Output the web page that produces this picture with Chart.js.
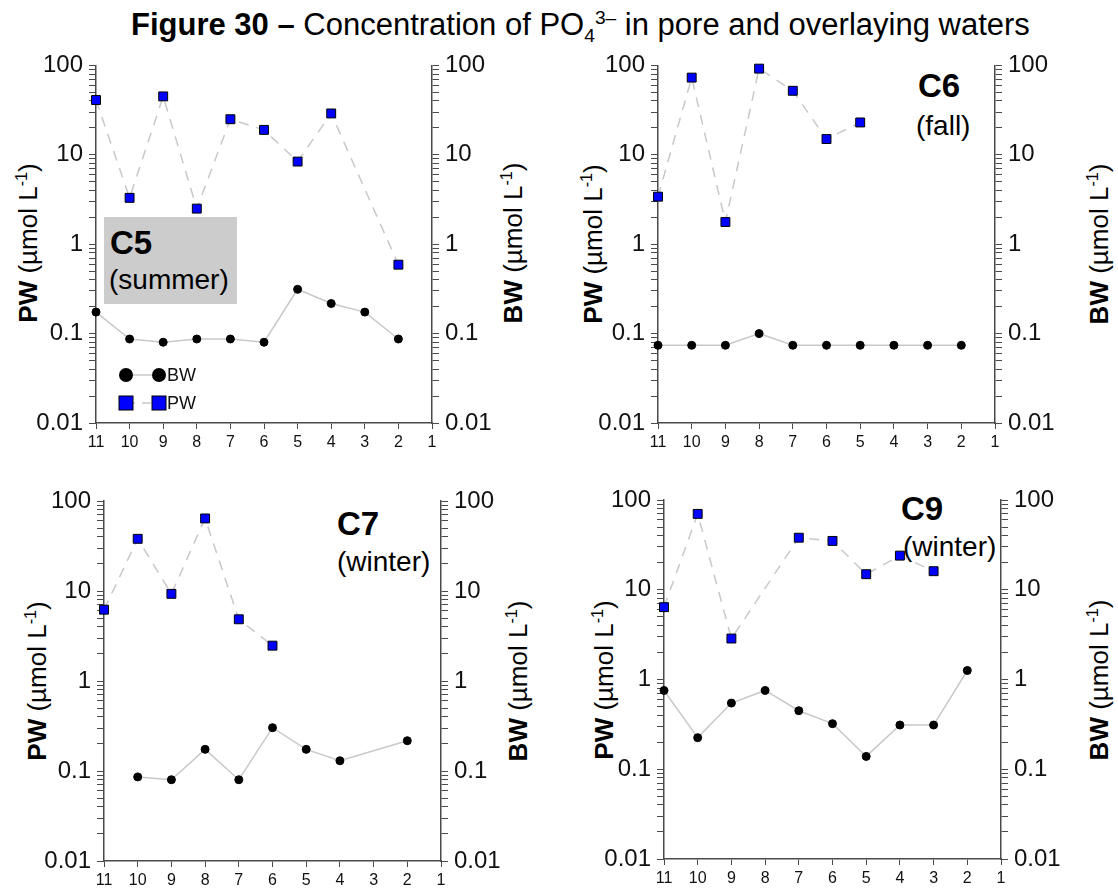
<!DOCTYPE html>
<html>
<head>
<meta charset="utf-8">
<script src="https://cdn.jsdelivr.net/npm/chart.js@4.4.1/dist/chart.umd.min.js"></script>
<style>
body { margin: 0; background: #fff; font-family: Arial, "Liberation Sans", sans-serif; }
#page { position: relative; width: 1118px; height: 888px; overflow: hidden; }
canvas { position: absolute; }
.t { position: absolute; line-height: 1; white-space: nowrap; color: #000; }
.ax { position: absolute; line-height: 1; white-space: nowrap; font-size: 26px; color: #000;
      transform: translate(-50%, -50%) rotate(-90deg); }
sup, sub { line-height: 0; font-size: 0.62em; }
.box { position: absolute; background: #cccccc; }
</style>
</head>
<body>
<div id="page">
  <div class="t" style="left:131px;top:9px;font-size:31px"><b>Figure 30 –</b> Concentration of PO<sub>4</sub><sup>3–</sup> in pore and overlaying waters</div>

  <div class="box" style="left:104px;top:217px;width:133px;height:87px"></div>
  <div class="t" style="left:110px;top:226px;font-size:33px;font-weight:bold">C5</div>
  <div class="t" style="left:109px;top:266px;font-size:28px">(summer)</div>

  <div class="t" style="left:918px;top:69px;font-size:33px;font-weight:bold">C6</div>
  <div class="t" style="left:916px;top:112px;font-size:28px">(fall)</div>

  <div class="t" style="left:337px;top:507px;font-size:33px;font-weight:bold">C7</div>
  <div class="t" style="left:337px;top:548px;font-size:28px">(winter)</div>

  <div class="t" style="left:901px;top:492px;font-size:33px;font-weight:bold">C9</div>
  <div class="t" style="left:903px;top:533px;font-size:28px">(winter)</div>

  <div class="ax" style="left:28px;top:243px"><b>PW</b> (µmol L<sup>-1</sup>)</div>
  <div class="ax" style="left:513px;top:243px"><b>BW</b> (µmol L<sup>-1</sup>)</div>
  <div class="ax" style="left:593px;top:244px"><b>PW</b> (µmol L<sup>-1</sup>)</div>
  <div class="ax" style="left:1099px;top:244px"><b>BW</b> (µmol L<sup>-1</sup>)</div>
  <div class="ax" style="left:37px;top:681px"><b>PW</b> (µmol L<sup>-1</sup>)</div>
  <div class="ax" style="left:518px;top:681px"><b>BW</b> (µmol L<sup>-1</sup>)</div>
  <div class="ax" style="left:604px;top:680px"><b>PW</b> (µmol L<sup>-1</sup>)</div>
  <div class="ax" style="left:1099px;top:680px"><b>BW</b> (µmol L<sup>-1</sup>)</div>
</div>
<script>
// sampling depths (x axis runs 11 -> 1)
const depths = [11, 10, 9, 8, 7, 6, 5, 4, 3, 2];
const xMin = 1;
const xMax = 11;
const yTickLabels = [0.01, 0.1, 1, 10, 100];

// C5 (summer)
const pwC5 = [41, 3.3, 45, 2.5, 25, 19, 8.4, 29, null, 0.59];
const bwC5 = [0.174, 0.087, 0.080, 0.087, 0.087, 0.080, 0.313, 0.217, 0.174, 0.087];
// C6 (fall)
const pwC6 = [3.4, 73, 1.77, 92, 52, 15, 23, null, null, null];
const bwC6 = [0.074, 0.074, 0.074, 0.1, 0.074, 0.074, 0.074, 0.074, 0.074, 0.074];
// C7 (winter)
const pwC7 = [6.2, 38, 9.3, 64, 4.85, 2.47, null, null, null, null];
const bwC7 = [null, 0.086, 0.080, 0.174, 0.080, 0.303, 0.174, 0.130, null, 0.217];
// C9 (winter)
const pwC9 = [6.4, 70, 2.86, null, 38, 35, 14.9, 24, 16.1, null];
const bwC9 = [0.755, 0.225, 0.546, 0.755, 0.449, 0.322, 0.139, 0.311, 0.311, 1.26];

// minor ticks 1..9 in every decade
const yTickValues = [];
yTickLabels.slice(0, -1).forEach((d) => {
  for (let k = 1; k <= 9; k++) yTickValues.push(+(d * k).toPrecision(6));
});
yTickValues.push(yTickLabels[yTickLabels.length - 1]);

const FONT = "Arial, 'Liberation Sans', sans-serif";
const axisColor = "#4a4a4a";
const lineGray = "#c8c8c8";

const toPoints = (vals) => depths.map((d, i) => ({ x: d, y: vals[i] }));

const legendPlugin = {
  id: "pwbwLegend",
  afterDraw(chart) {
    const ctx = chart.ctx;
    const x1 = 126, x2 = 159, tx = 167;
    const yb = 330, yp = 358;
    ctx.save();
    // BW row
    ctx.strokeStyle = lineGray;
    ctx.lineWidth = 1.5;
    ctx.beginPath(); ctx.moveTo(x1, yb); ctx.lineTo(x2, yb); ctx.stroke();
    ctx.fillStyle = "#000";
    [x1, x2].forEach((x) => { ctx.beginPath(); ctx.arc(x, yb, 7, 0, Math.PI * 2); ctx.fill(); });
    // PW row
    ctx.setLineDash([9, 7]);
    ctx.beginPath(); ctx.moveTo(x1, yp); ctx.lineTo(x2, yp); ctx.stroke();
    ctx.setLineDash([]);
    [x1, x2].forEach((x) => {
      ctx.fillStyle = "#0000ff";
      ctx.fillRect(x - 7, yp - 7, 14, 14);
      ctx.strokeStyle = "#000"; ctx.lineWidth = 1;
      ctx.strokeRect(x - 7, yp - 7, 14, 14);
    });
    ctx.fillStyle = "#111";
    ctx.font = "18px " + FONT;
    ctx.textBaseline = "middle";
    ctx.fillText("BW", tx, yb + 1);
    ctx.fillText("PW", tx, yp + 1);
    ctx.restore();
  },
};

function yAxis(position, width) {
  return {
    type: "logarithmic",
    position,
    min: 0.01,
    max: 100,
    afterBuildTicks: (s) => { s.ticks = yTickValues.map((v) => ({ value: v })); },
    afterFit: (s) => { s.width = width; },
    grid: { drawOnChartArea: false, drawTicks: true, tickLength: 7, color: axisColor, tickWidth: 1 },
    border: { display: true, color: axisColor, width: 1.5 },
    ticks: {
      autoSkip: false,
      padding: 6,
      color: "#111",
      font: { family: FONT, size: 24 },
      callback: (v) => (yTickLabels.includes(v) ? String(v) : ""),
    },
  };
}

const panels = [
  { left: 0, top: 45, w: 560, h: 415, area: [96, 63, 432, 423], pw: pwC5, bw: bwC5, legend: true },
  { left: 558, top: 45, w: 560, h: 415, area: [658, 64, 995, 423], pw: pwC6, bw: bwC6 },
  { left: 0, top: 478, w: 560, h: 410, area: [104, 501, 441, 861], pw: pwC7, bw: bwC7 },
  { left: 558, top: 478, w: 560, h: 410, area: [664, 500, 1001, 859], pw: pwC9, bw: bwC9 },
];

const page = document.getElementById("page");
panels.forEach((p) => {
  const cv = document.createElement("canvas");
  cv.width = p.w; cv.height = p.h;
  cv.style.left = p.left + "px"; cv.style.top = p.top + "px";
  cv.style.width = p.w + "px"; cv.style.height = p.h + "px";
  page.appendChild(cv);

  const [L, T, R, B] = p.area;
  const yl = L - p.left, yr = p.left + p.w - R, pt = T - p.top, xh = p.top + p.h - B;

  new Chart(cv.getContext("2d"), {
    type: "line",
    data: {
      datasets: [
        {
          label: "PW",
          data: toPoints(p.pw),
          yAxisID: "y",
          borderColor: lineGray,
          borderWidth: 1.5,
          borderDash: [10, 8],
          spanGaps: true,
          pointStyle: "rect",
          pointRadius: 6.3,
          pointBackgroundColor: "#0000ff",
          pointBorderColor: "#000",
          pointBorderWidth: 1,
          clip: false,
        },
        {
          label: "BW",
          data: toPoints(p.bw),
          yAxisID: "y2",
          borderColor: lineGray,
          borderWidth: 1.5,
          spanGaps: true,
          pointStyle: "circle",
          pointRadius: 4,
          pointBackgroundColor: "#000",
          pointBorderColor: "#000",
          pointBorderWidth: 1,
          clip: false,
        },
      ],
    },
    options: {
      responsive: false,
      animation: false,
      devicePixelRatio: 1,
      events: [],
      layout: { padding: { top: pt, left: 0, right: 0, bottom: 0 } },
      plugins: { legend: { display: false }, tooltip: { enabled: false } },
      scales: {
        x: {
          type: "linear",
          reverse: true,
          min: xMin,
          max: xMax,
          afterFit: (s) => { s.height = xh; },
          grid: { drawOnChartArea: false, drawTicks: true, tickLength: 6, color: axisColor },
          border: { display: true, color: axisColor, width: 1.5 },
          ticks: { stepSize: 1, autoSkip: false, maxRotation: 0, padding: 4, color: "#111", font: { family: FONT, size: 16 } },
        },
        y: yAxis("left", yl),
        y2: yAxis("right", yr),
      },
    },
    plugins: p.legend ? [legendPlugin] : [],
  });
});
</script>
</body>
</html>
